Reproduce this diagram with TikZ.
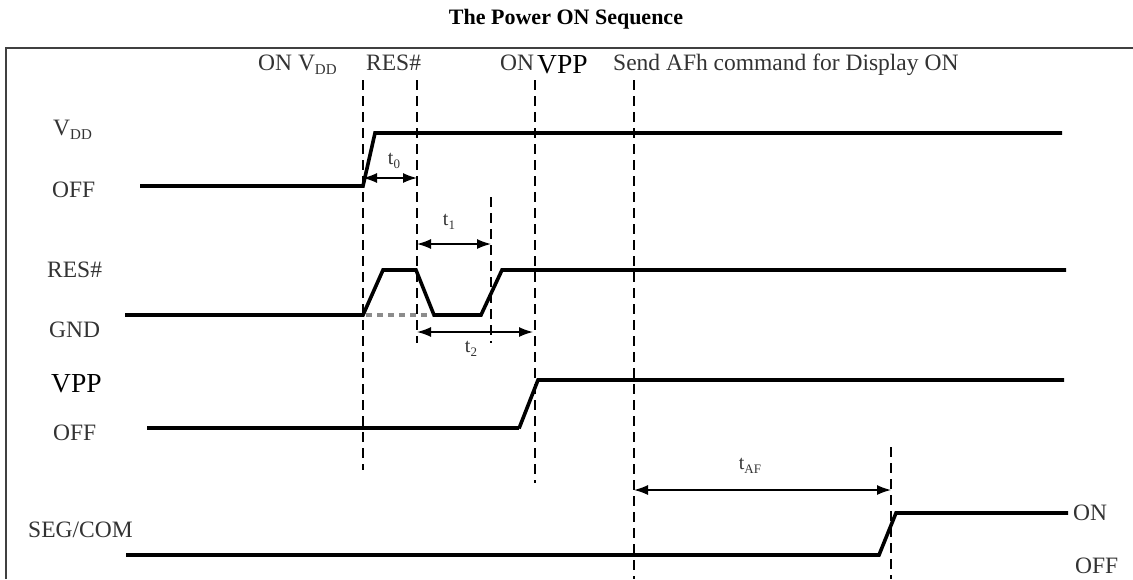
\documentclass[tikz,border=0pt]{standalone}
\usepackage{fontspec}
\setmainfont{Liberation Serif}
\usetikzlibrary{arrows.meta}
\newcommand\mysub[1]{\raisebox{-0.2em}{\fontsize{15}{15}\selectfont #1}}
\newcommand\tsub[1]{\raisebox{-0.2em}{\fontsize{13}{13}\selectfont #1}}
\begin{document}
\begin{tikzpicture}[x=1pt,y=-1pt,
  sig/.style={line width=3.6pt, line join=miter, line cap=butt},
  guide/.style={line width=1.3pt, dash pattern=on 10pt off 6pt},
  dim/.style={line width=1.5pt, {Latex[length=14pt,width=10pt]}-{Latex[length=14pt,width=10pt]}},
  lbl/.style={font=\fontsize{23.5}{25}\selectfont, text=black!80, inner sep=0pt, anchor=base west},
  big/.style={font=\fontsize{27.5}{29}\selectfont, inner sep=0pt, anchor=base west},
  tl/.style={font=\fontsize{20}{22}\selectfont, text=black!80, inner sep=0pt},
  frame/.style={line width=1.4pt, draw=black!75}
]
\useasboundingbox (0,0) rectangle (1133,579);
% frame
\coordinate (fbl) at (6,579);
\coordinate (ftl) at (6,48);
\coordinate (ftr) at (1133,48);
\draw[frame] (fbl) -- (ftl) -- (ftr);
% title
\node[font=\bfseries\fontsize{22}{24}\selectfont, inner sep=0pt] (title) at (566,19) {The Power ON Sequence};
% top labels
\node[lbl] (onvdd) at (258,70) {ON V\mysub{DD}};
\node[lbl] (resl) at (366,70) {RES\#};
\node[lbl] (onl) at (500,70) {ON};
\node[big] (vppl) at (537,73) {VPP};
\node[lbl] (afh) at (613,70) {Send AFh command for Display ON};
% left labels
\node[lbl] (vdd) at (53,135) {V\mysub{DD}};
\node[lbl] (off1) at (52,197) {OFF};
\node[lbl] (res) at (47,277) {RES\#};
\node[lbl] (gnd) at (49,337) {GND};
\node[big] (vpp) at (51,392) {VPP};
\node[lbl] (off2) at (53,440) {OFF};
\node[lbl] (seg) at (28,537) {SEG/COM};
\node[lbl] (on3) at (1073,520) {ON};
\node[lbl] (off3) at (1075,573) {OFF};
% guide lines
\coordinate (g1t) at (363,80);  \coordinate (g1b) at (363,470);
\coordinate (g2t) at (417,80);  \coordinate (g2b) at (417,343);
\coordinate (g3t) at (491,197); \coordinate (g3b) at (491,343);
\coordinate (g4t) at (535,80);  \coordinate (g4b) at (535,483);
\coordinate (g5t) at (634,80);  \coordinate (g5b) at (634,579);
\coordinate (g6t) at (891,447); \coordinate (g6b) at (891,579);
\foreach \g in {1,...,6} \draw[guide] (g\g t) -- (g\g b);
% waveforms
\draw[sig] (140,186) -- (363,186) -- (375,133) -- (1062,133);
\draw[sig] (125,315) -- (363,315) -- (383,270) -- (416,270) -- (434,315) -- (481,315) -- (502,270) -- (1066,270);
\draw[line width=3.6pt, black!45, dash pattern=on 6pt off 5pt] (366,315) -- (432,315);
\draw[sig, line width=4.6pt] (147,428) -- (519,428);
\draw[sig] (519,428.5) -- (538,380) -- (1064,380);
\draw[sig] (126,555) -- (879,555) -- (896,513) -- (1068,513);
% dimension arrows
\coordinate (a0l) at (363,178); \coordinate (a0r) at (417,178);
\coordinate (a1l) at (417,244); \coordinate (a1r) at (491,244);
\coordinate (a2l) at (417,332); \coordinate (a2r) at (533,332);
\coordinate (a3l) at (634,490); \coordinate (a3r) at (891,490);
\draw[dim] (a0l) -- (a0r);
\draw[dim] (a1l) -- (a1r);
\draw[dim] (a2l) -- (a2r);
\draw[dim] (a3l) -- (a3r);
\node[tl] (t0) at (394,161) {t\tsub{0}};
\node[tl] (t1) at (449,222) {t\tsub{1}};
\node[tl] (t2) at (471,349) {t\tsub{2}};
\node[tl] (taf) at (750,466) {t\tsub{AF}};
\end{tikzpicture}
\end{document}
